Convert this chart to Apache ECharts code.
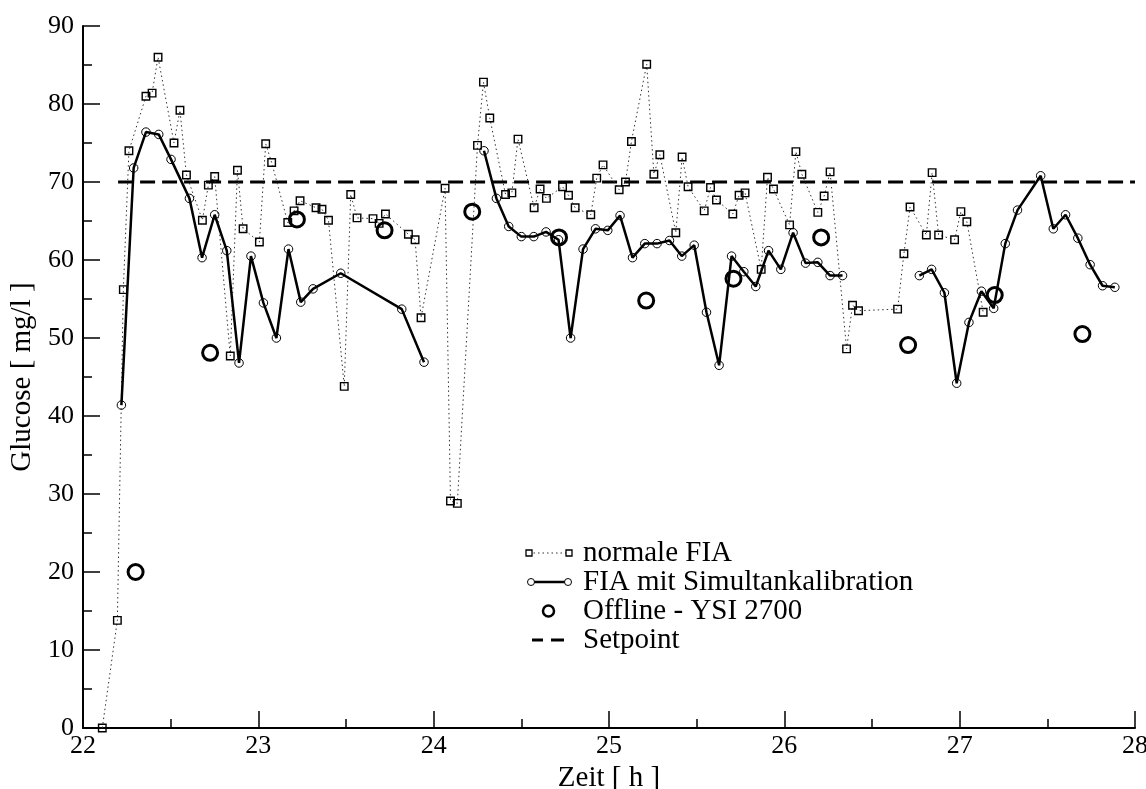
<!DOCTYPE html>
<html>
<head>
<meta charset="utf-8">
<script src="https://cdn.jsdelivr.net/npm/echarts@6/dist/echarts.min.js"></script>
<style>
html,body{margin:0;padding:0;background:#fff;}
#chart{width:1146px;height:789px;}
</style>
</head>
<body>
<div id="chart"></div>
<script>
// ---- data ----
const tNormal = [22.11, 22.196, 22.23, 22.262, 22.359, 22.394, 22.428, 22.519, 22.553, 22.59, 22.681, 22.715, 22.751, 22.84, 22.881, 22.913, 23.006, 23.042, 23.076, 23.168, 23.204, 23.238, 23.329, 23.363, 23.4, 23.49, 23.527, 23.563, 23.654, 23.689, 23.725, 23.856, 23.894, 23.928, 24.065, 24.096, 24.135, 24.25, 24.284, 24.32, 24.41, 24.446, 24.481, 24.573, 24.607, 24.643, 24.735, 24.769, 24.807, 24.896, 24.93, 24.966, 25.058, 25.094, 25.128, 25.215, 25.256, 25.29, 25.381, 25.417, 25.451, 25.543, 25.579, 25.613, 25.706, 25.742, 25.776, 25.868, 25.904, 25.938, 26.03, 26.066, 26.1, 26.191, 26.227, 26.261, 26.355, 26.389, 26.423, 26.646, 26.682, 26.717, 26.81, 26.843, 26.88, 26.971, 27.007, 27.041, 27.134];
const vNormal = [0, 13.8, 56.2, 74.0, 81.0, 81.4, 86.0, 75.0, 79.2, 70.9, 65.1, 69.6, 70.7, 47.7, 71.5, 64.0, 62.3, 74.9, 72.5, 64.8, 66.3, 67.6, 66.7, 66.5, 65.1, 43.8, 68.4, 65.4, 65.3, 64.7, 65.9, 63.3, 62.6, 52.6, 69.2, 29.1, 28.8, 74.7, 82.8, 78.2, 68.4, 68.6, 75.5, 66.7, 69.1, 67.9, 69.4, 68.3, 66.7, 65.8, 70.5, 72.2, 69.0, 70.0, 75.2, 85.1, 71.0, 73.5, 63.5, 73.2, 69.4, 66.3, 69.3, 67.7, 65.9, 68.3, 68.6, 58.8, 70.6, 69.1, 64.5, 73.9, 71.0, 66.1, 68.2, 71.3, 48.6, 54.2, 53.5, 53.7, 60.8, 66.8, 63.2, 71.2, 63.2, 62.6, 66.2, 64.9, 53.3];

const tSim = [22.219, 22.289, 22.359, 22.432, 22.502, 22.607, 22.679, 22.751, 22.82, 22.89, 22.958, 23.029, 23.103, 23.172, 23.242, 23.312, 23.47, 23.818, 23.945,
  24.287, 24.358, 24.428, 24.5, 24.571, 24.641, 24.712, 24.781, 24.852, 24.923, 24.993, 25.063, 25.134, 25.204, 25.274, 25.345, 25.415, 25.486, 25.556, 25.628, 25.699, 25.769, 25.837, 25.91, 25.98, 26.05, 26.121, 26.191, 26.261, 26.332,
  26.77, 26.84, 26.913, 26.983, 27.053, 27.124, 27.194, 27.26, 27.33, 27.462, 27.534, 27.604, 27.674, 27.744, 27.815, 27.885];
const vSim = [41.4, 71.8, 76.4, 76.1, 72.9, 67.9, 60.3, 65.8, 61.2, 46.8, 60.5, 54.5, 50.0, 61.4, 54.6, 56.3, 58.3, 53.7, 46.9,
  74.0, 67.9, 64.3, 63.0, 63.0, 63.6, 62.6, 50.0, 61.4, 64.0, 63.8, 65.7, 60.3, 62.1, 62.1, 62.5, 60.5, 61.9, 53.3, 46.5, 60.5, 58.5, 56.6, 61.2, 58.8, 63.5, 59.6, 59.7, 58.0, 58.0,
  58.0, 58.8, 55.8, 44.2, 52.0, 56.0, 53.8, 62.1, 66.4, 70.8, 64.0, 65.8, 62.8, 59.4, 56.7, 56.5];
const simBreaksAfter = [23.945, 26.332];

const tOffline = [22.3, 22.725, 23.22, 23.72, 24.22, 24.715, 25.212, 25.71, 26.21, 26.706, 27.2, 27.7];
const vOffline = [20.0, 48.1, 65.2, 63.8, 66.2, 62.9, 54.8, 57.6, 62.9, 49.1, 55.5, 50.5];

const tSetpoint = [22.2, 28];
const vSetpoint = [70, 70];

const legendLabels = ['normale FIA', 'FIA mit Simultankalibration', 'Offline - YSI 2700', 'Setpoint'];
const xName = 'Zeit [ h ]';
const yName = 'Glucose [ mg/l ]';

// ---- build ----
const zip = (t, v) => t.map((x, i) => [x, v[i]]);
const simData = [];
tSim.forEach((x, i) => {
  simData.push([x, vSim[i]]);
  if (simBreaksAfter.includes(x)) simData.push([x, '-']);
});

const FONT = 'Liberation Serif, Times New Roman, serif';
const chart = echarts.init(document.getElementById('chart'), null, {renderer: 'canvas'});

const lx = 529, lx2 = 569, ltx = 583;
const ly = [553, 582, 611, 640];
const textStyleL = {fill: '#000', font: '29px ' + FONT, verticalAlign: 'middle', align: 'left'};

chart.setOption({
  animation: false,
  backgroundColor: '#fff',
  grid: {left: 83, right: 11, top: 26, bottom: 61, containLabel: false, outerBoundsMode: 'none'},
  xAxis: {
    type: 'value', min: 22, max: 28, interval: 1,
    name: xName, nameLocation: 'middle', nameGap: 31,
    nameTextStyle: {fontFamily: FONT, fontSize: 29, color: '#000'},
    axisLine: {show: true, onZero: false, lineStyle: {color: '#000', width: 2}},
    axisTick: {show: true, inside: true, length: 17, lineStyle: {color: '#000', width: 1.5}},
    minorTick: {show: true, splitNumber: 2, length: 9, lineStyle: {color: '#000', width: 1.5}},
    splitLine: {show: false},
    axisLabel: {fontFamily: FONT, fontSize: 26, color: '#000', margin: 5}
  },
  yAxis: {
    type: 'value', min: 0, max: 90, interval: 10,
    name: yName, nameLocation: 'middle', nameGap: 38, nameRotate: 90,
    nameTextStyle: {fontFamily: FONT, fontSize: 29, color: '#000'},
    axisLine: {show: true, onZero: false, lineStyle: {color: '#000', width: 2}},
    axisTick: {show: true, inside: true, length: 17, lineStyle: {color: '#000', width: 1.5}},
    minorTick: {show: true, splitNumber: 2, length: 9, lineStyle: {color: '#000', width: 1.5}},
    splitLine: {show: false},
    axisLabel: {fontFamily: FONT, fontSize: 26, color: '#000', margin: 9}
  },
  series: [
    {
      name: legendLabels[3], type: 'line', data: zip(tSetpoint, vSetpoint),
      symbol: 'none', silent: true, z: 1,
      lineStyle: {color: '#000', width: 3, type: [15, 7]}
    },
    {
      name: legendLabels[0], type: 'line', data: zip(tNormal, vNormal),
      symbol: 'rect', symbolSize: 7.5, showSymbol: true, showAllSymbol: true, silent: true, z: 2,
      lineStyle: {color: '#333', width: 1, type: [1.5, 3]},
      itemStyle: {color: 'rgba(255,255,255,0)', borderColor: '#000', borderWidth: 1.4, opacity: 1}
    },
    {
      name: legendLabels[1], type: 'line', data: simData, connectNulls: false,
      symbol: 'circle', symbolSize: 8.5, showSymbol: true, showAllSymbol: true, silent: true, z: 3,
      lineStyle: {color: '#000', width: 2.5},
      itemStyle: {color: 'rgba(255,255,255,0)', borderColor: '#000', borderWidth: 1, opacity: 1}
    },
    {
      name: legendLabels[2], type: 'scatter', data: zip(tOffline, vOffline),
      symbol: 'circle', symbolSize: 15, silent: true, z: 4,
      itemStyle: {color: 'rgba(255,255,255,0)', borderColor: '#000', borderWidth: 3, opacity: 1}
    }
  ],
  graphic: [
    // row 1: normale FIA
    {type: 'line', shape: {x1: lx, y1: ly[0], x2: lx2, y2: ly[0]}, style: {stroke: '#333', lineWidth: 1, lineDash: [1.5, 3]}},
    {type: 'rect', shape: {x: lx - 3, y: ly[0] - 3, width: 6, height: 6}, style: {fill: '#fff', stroke: '#000', lineWidth: 1.3}},
    {type: 'rect', shape: {x: lx2 - 3, y: ly[0] - 3, width: 6, height: 6}, style: {fill: '#fff', stroke: '#000', lineWidth: 1.3}},
    {type: 'text', x: ltx, y: ly[0], style: Object.assign({text: legendLabels[0]}, textStyleL)},
    // row 2: FIA mit Simultankalibration
    {type: 'line', shape: {x1: lx + 2, y1: ly[1], x2: lx2 - 1, y2: ly[1]}, style: {stroke: '#000', lineWidth: 2.5}},
    {type: 'circle', shape: {cx: lx + 2, cy: ly[1], r: 3.5}, style: {fill: '#fff', stroke: '#000', lineWidth: 1}},
    {type: 'circle', shape: {cx: lx2 - 1, cy: ly[1], r: 3.5}, style: {fill: '#fff', stroke: '#000', lineWidth: 1}},
    {type: 'text', x: ltx, y: ly[1], style: Object.assign({text: legendLabels[1]}, textStyleL)},
    // row 3: Offline
    {type: 'circle', shape: {cx: 548.5, cy: ly[2], r: 5.5}, style: {fill: 'none', stroke: '#000', lineWidth: 2.5}},
    {type: 'text', x: ltx, y: ly[2], style: Object.assign({text: legendLabels[2]}, textStyleL)},
    // row 4: Setpoint
    {type: 'line', shape: {x1: 532, y1: ly[3], x2: 543, y2: ly[3]}, style: {stroke: '#000', lineWidth: 3}},
    {type: 'line', shape: {x1: 551, y1: ly[3], x2: 564, y2: ly[3]}, style: {stroke: '#000', lineWidth: 3}},
    {type: 'text', x: ltx, y: ly[3], style: Object.assign({text: legendLabels[3]}, textStyleL)}
  ]
});
</script>
</body>
</html>
